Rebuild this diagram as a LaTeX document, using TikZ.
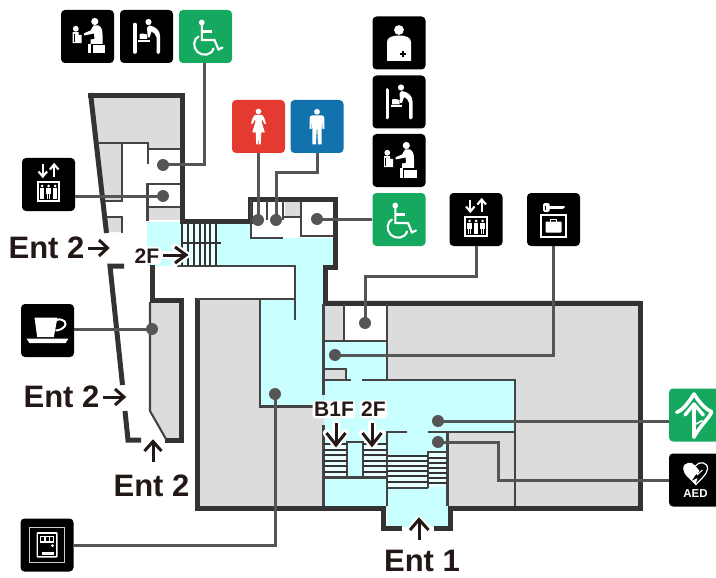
\documentclass[tikz,border=0pt]{standalone}
\usepackage{fontspec}
\setmainfont{Liberation Sans}
\definecolor{wallc}{HTML}{333333}
\definecolor{thinc}{HTML}{444444}
\definecolor{grayf}{HTML}{DCDCDC}
\definecolor{cyanf}{HTML}{C9FFFF}
\definecolor{connc}{HTML}{555555}
\definecolor{txtc}{HTML}{231815}
\definecolor{greenf}{HTML}{14A95F}
\definecolor{redf}{HTML}{E53A2F}
\definecolor{bluef}{HTML}{1172AE}
\tikzset{
  x=1pt,y=-1pt,
  wall/.style={draw=wallc,line width=5pt,line cap=butt,line join=miter},
  thin wall/.style={draw=thinc,line width=2.1pt,line join=miter},
  stairl/.style={draw=wallc,line width=2pt},
  conn/.style={draw=connc,line width=3pt,line join=miter},
  dotn/.style={circle,fill=connc,draw=none,inner sep=0pt,minimum size=12pt},
  iconbox/.style={rectangle,rounded corners=4pt,draw=none,inner sep=0pt,minimum size=53pt},
  ic/.style={fill=white,draw=none},
  il/.style={draw=white,line width=2.1pt,fill=none},
  big/.style={font=\fontsize{31}{32}\selectfont\bfseries,text=txtc,inner sep=0pt,anchor=base},
  small/.style={font=\fontsize{21}{22}\selectfont\bfseries,text=txtc,inner sep=1.6pt,fill=white,rounded corners=3pt,anchor=base},
  arrowl/.style={draw=txtc,line width=3pt,line join=miter},
  halo/.style={draw=white,line width=7.5pt,line join=round,line cap=round},
  pics/toiletchild/.style={code={
    \fill[ic] (7.3,-15) circle (3.6);
    \fill[ic] (6,-11) -- (11,-11) .. controls (14,-10) and (15,-6) .. (15,-2) -- (15,7.5) -- (3,7.5) -- (3,3) -- (7,2.5) -- (6.5,-3) -- (-3.5,-1) -- (-3.5,-3.2) -- (3,-6) -- cycle;
    \fill[ic] (5,9) -- (17.5,9) -- (17.5,17) -- (5,17) -- cycle;
    \fill[ic] (0.8,7.5) -- (3.5,7.5) -- (3.5,17) -- (0.8,17) -- cycle;
    \fill[ic] (-11.7,-7.7) circle (2.9);
    \fill[ic] (-15,-4.3) -- (-9,-4.3) -- (-9,-1.5) -- (-6,-1.5) -- (-6,6.7) -- (-15,6.7) -- cycle;
    \fill[black] (-13.6,-2) rectangle (-12.8,5.2);
  }},
  pics/babychange/.style={code={
    \draw[draw=white,line width=3.6pt,line cap=round] (-11.7,-12) -- (-11.7,15.5);
    \fill[ic] (2,-14.5) circle (3.1);
    \fill[ic] (3,-11) .. controls (9,-10) and (13.5,-6) .. (13.5,-1) -- (13.5,16) .. controls (13.5,18) and (10,18) .. (10,16) -- (10,1) .. controls (10,-2) and (7,-4) .. (5,-5) -- (3,1) -- (1,1) -- (1,-2) -- (0.5,-9) -- cycle;
    \fill[ic] (-8.3,3.4) rectangle (3,5.2);
    \fill[ic] (-7,-2.5) .. controls (-5,-4.5) and (-3,-2) .. (0.5,-2) -- (0.5,2.3) -- (-7,2.3) -- cycle;
  }},
  pics/wheel/.style={code={
    \fill[ic] (-3.7,-14) circle (2.9);
    \draw[il,line join=miter,line cap=round] (-3.7,-12) -- (-3.7,3.5) -- (9,3.5) -- (13,13) -- (17,11);
    \draw[il] (-3.7,-5) -- (6,-5);
    \draw[il,line cap=round] (-7,0) .. controls (-12,2) and (-13,11) .. (-8,15.5) .. controls (-3,20) and (6,19) .. (8,12);
  }},
  pics/lift/.style={code={
    \draw[il,line cap=butt] (-5.7,-20) -- (-5.7,-8);
    \draw[il,line join=miter] (-10,-13) -- (-5.7,-8) -- (-1.4,-13);
    \draw[il,line cap=butt] (5.7,-8) -- (5.7,-20);
    \draw[il,line join=miter] (1.4,-15) -- (5.7,-20) -- (10,-15);
    \draw[draw=white,line width=2pt] (-10.7,-2.7) rectangle (10.7,16.5);
    \foreach \px in {-6.5,0,6.5}{
      \fill[ic] (\px,1.5) circle (1.5);
      \fill[ic] (\px-2.3,3.5) rectangle (\px+2.3,9);
      \fill[ic] (\px-1.8,9) rectangle (\px-0.3,14);
      \fill[ic] (\px+0.3,9) rectangle (\px+1.8,14);
    }
  }},
  pics/coffee/.style={code={
    \fill[ic] (-13,-13) -- (10,-13) -- (6.3,6.7) -- (-10.3,6.7) -- cycle;
    \draw[draw=white,line width=2pt] (9,-10.5) .. controls (16,-13) and (21,-7) .. (16,-3) .. controls (14,-1) and (10,0) .. (8,0);
    \fill[ic] (-21,8) -- (21,8) -- (18,12.7) -- (-18,12.7) -- cycle;
  }},
  pics/vend/.style={code={
    \draw[draw=white!80!black,line width=.9pt] (-17.3,-17.3) rectangle (17.3,17.3);
    \fill[ic,rounded corners=1pt] (-10.5,-13) rectangle (10.5,12.5);
    \fill[black] (-9,-11.5) rectangle (9,11);
    \fill[ic] (-7,-9) rectangle (7,-2.5);
    \foreach \wx in {-5.6,-1.2,3.2}{\fill[black] (\wx,-7.6) rectangle (\wx+3,-4);}
    \fill[ic] (5.5,0.5) circle (1.5);
    \fill[ic] (-5,6.5) rectangle (6.5,9.5);
  }},
  pics/woman/.style={code={
    \fill[ic] (0,-15) circle (2.8);
    \fill[ic] (-3.5,-11.5) -- (3.5,-11.5) .. controls (5,-11) and (6,-8) .. (7.5,-3) -- (6,-2.5) -- (3.5,-7) -- (3,-5) -- (6.3,6) -- (2.8,6) -- (2.2,18) -- (0.4,18) -- (0,7) -- (-0.4,18) -- (-2.2,18) -- (-2.8,6) -- (-6.3,6) -- (-3,-5) -- (-3.5,-7) -- (-6,-2.5) -- (-7.5,-3) .. controls (-6,-8) and (-5,-11) .. (-3.5,-11.5) -- cycle;
  }},
  pics/man/.style={code={
    \fill[ic] (0,-14.7) circle (2.9);
    \fill[ic] (-5,-11) -- (5,-11) .. controls (6.5,-11) and (7.3,-10) .. (7.3,-8) -- (7.3,2.5) -- (5.5,2.5) -- (5.2,-6) -- (4.7,2) -- (4.5,18) -- (1,18) -- (0.3,3) -- (-0.3,3) -- (-1,18) -- (-4.5,18) -- (-4.7,2) -- (-5.2,-6) -- (-5.5,2.5) -- (-7.3,2.5) -- (-7.3,-8) .. controls (-7.3,-10) and (-6.5,-11) .. (-5,-11) -- cycle;
  }},
  pics/nursing/.style={code={
    \fill[ic] (0,-13) circle (4.9);
    \fill[ic] (-12,18) -- (-12,-1) .. controls (-12,-6) and (-6,-7.5) .. (0,-7.5) .. controls (6,-7.5) and (12,-6) .. (12,-1) -- (12,18) -- cycle;
    \fill[black] (3,8) rectangle (5,14);
    \fill[black] (1,10) rectangle (7,12);
  }},
  pics/keycase/.style={code={
    \fill[ic,rounded corners=1.5pt] (-10.3,-16.5) rectangle (-4,-7.5);
    \fill[black] (-8.8,-14) rectangle (-7.6,-10);
    \fill[ic] (-4.5,-13.5) -- (11,-13.5) -- (11,-11.5) -- (9,-10.7) -- (-4.5,-10.7) -- cycle;
    \draw[draw=white,line width=2pt] (-12.5,-4.5) rectangle (12.5,17.5);
    \fill[ic,rounded corners=.8pt] (-8,2) rectangle (8,13);
    \draw[draw=white,line width=1.1pt] (-2.7,2) -- (-2.7,-.2) -- (2.7,-.2) -- (2.7,2);
  }},
  pics/exit/.style={code={
    \draw[draw=white,line width=3.6pt,line join=round,line cap=round] (-18.8,-2.7) .. controls (-12,-5) and (-6,-14) .. (-1.5,-21) .. controls (3,-14) and (9,-6) .. (16.2,-3.3) .. controls (14,3) and (5,10) .. (-1.5,22);
    \draw[draw=white,line width=3.4pt,line cap=round] (-1.5,22) -- (-1.5,-10);
    \draw[draw=white,line width=3.4pt,line join=round,line cap=round] (-10.5,0) -- (-1.5,-11) -- (7.8,0);
    \draw[draw=white,line width=1.6pt] (-1.5,10) -- (7,5.5);
  }},
  pics/aedheart/.style={code={
    \fill[ic] (0,-14) .. controls (-3,-19) and (-12.5,-18.5) .. (-12.3,-11) .. controls (-12,-5) and (-4,0) .. (0,5) -- (2,-2) -- (-4,1) -- (0,-5) -- (4,-9) -- cycle;
    \draw[draw=white,line width=1.2pt] (0,-14) .. controls (3,-19) and (12.5,-18.5) .. (12,-11) .. controls (11.5,-5) and (4,0) .. (0,5);
    \draw[draw=white,line width=1pt] (-3,-4) -- (2,-8) -- (2,-5.5) -- (7,-10);
  }},
}
\begin{document}
\begin{tikzpicture}
\useasboundingbox (0,0) rectangle (716,578);
\clip (0,0) rectangle (716,578);
% --- fills
\fill[white] (0,0) rectangle (716,578);
\fill[grayf] (197,300) rectangle (640,508);
\fill[white] (345,304) rectangle (387,340);
\fill[grayf] (91,95) -- (181,95) -- (181,149) -- (148,149) -- (148,143) -- (97,143) -- cycle;
\fill[grayf] (98,143) -- (122,143) -- (122,201) -- (104,201) -- cycle;
\fill[grayf] (106,217) -- (122,217) -- (122,232) -- (108,232) -- cycle;
\fill[grayf] (148,207) rectangle (181,220);
\fill[grayf] (285,201) rectangle (300,217);
\fill[grayf] (151,301) -- (181,301) -- (181,439) -- (166,439) -- (150,411) -- cycle;
\fill[cyanf] (147,222) -- (250,222) -- (250,238) -- (333,238) -- (333,266) -- (323,266) -- (323,406) -- (260,406) -- (260,300) -- (295,300) -- (295,266) -- (147,266) -- cycle;
\fill[cyanf] (324,342) -- (387,342) -- (387,380) -- (515,380) -- (515,432) -- (448,432) -- (448,527) -- (387,527) -- (387,506) -- (324,506) -- cycle;
\fill[grayf] (325,370) rectangle (345,380);
% stair backgrounds
\fill[white!60!cyanf] (182,222) rectangle (216,266);
\fill[white!60!cyanf] (324,443) rectangle (347,477);
\fill[white!60!cyanf] (363,443) rectangle (387,477);
\fill[white!60!cyanf] (388,456) rectangle (428,487);
\fill[white!60!cyanf] (429,453) rectangle (447,487);
% --- thick walls
\draw[wall] (88,95.3) -- (182,95.3) -- (182,222);
\draw[wall] (90.5,93) -- (106.5,233);
\draw[wall] (180,221) -- (250,221) -- (250,199) -- (335,199) -- (335,267) -- (325,267) -- (325,304);
\draw[wall] (325,303) -- (640,303) -- (640,508) -- (449,508);
\draw[wall] (385,508) -- (197.5,508) -- (197.5,298);
\draw[wall] (383.5,506) -- (383.5,528) -- (402,528);
\draw[wall] (434,528) -- (450,528) -- (450,506);
\draw[wall] (124,266) -- (110,266) -- (122.5,385);
\draw[wall] (125,411) -- (128,440) -- (141,440);
\draw[wall] (152,265) -- (152,300) -- (181,300) -- (181,440) -- (165,440);
% --- thin walls
\draw[thin wall] (98,143) -- (148,143) -- (148,164);
\draw[thin wall] (148,149) -- (181,149);
\draw[thin wall] (122,143) -- (122,201) -- (105,201);
\draw[thin wall] (147.5,221) -- (147.5,184) -- (181,184);
\draw[thin wall] (148,207) -- (181,207);
\draw[thin wall] (107,217) -- (122,217) -- (122,233);
\draw[thin wall] (150,302) -- (150,411) -- (166,439);
\draw[thin wall] (251,200) -- (251,238) -- (283,238);
\draw[thin wall] (267,201) -- (267,220);
\draw[thin wall] (283,201) -- (283,220);
\draw[thin wall] (283,217) -- (301,217);
\draw[thin wall] (301,201) -- (301,236) -- (334,236);
\draw[thin wall] (177,266) -- (295,266) -- (295,320);
\draw[thin wall] (197,299) -- (295,299);
\draw[thin wall] (260,299) -- (260,406.5) -- (323,406.5);
\draw[thin wall] (323.5,304) -- (323.5,395);
\draw[thin wall] (323.5,425) -- (323.5,506);
\draw[thin wall] (344,304) -- (344,341);
\draw[thin wall] (323,341) -- (387,341);
\draw[thin wall] (387,304) -- (387,380);
\draw[thin wall] (324,369) -- (346,369) -- (346,380);
\draw[thin wall] (323,380) -- (351,380);
\draw[thin wall] (362,380) -- (515,380) -- (515,506);
\draw[thin wall] (387,506) -- (387,432) -- (407,432);
\draw[thin wall] (428,432) -- (515,432);
\draw[thin wall] (447.5,432) -- (447.5,506);
\draw[thin wall] (347,477) -- (347,442) -- (363,442) -- (363,477);
\draw[thin wall] (323,477.5) -- (387,477.5);
\draw[thin wall] (428,488) -- (428,452) -- (447,452);
\draw[thin wall] (387,488) -- (428,488);
% --- stairs
\foreach \sx in {182,188,194,200,205,210,216}{\draw[stairl] (\sx,222) -- (\sx,266);}
\draw[stairl] (182,243) -- (221,243);
\foreach \sy in {444,449.5,455,460.5,466,471.5}{
  \draw[stairl] (324,\sy) -- (347,\sy);
  \draw[stairl] (363,\sy) -- (387,\sy);
}
\foreach \sy in {456,461,466,471,476,481.5}{\draw[stairl] (388,\sy) -- (428,\sy);}
\foreach \sy in {458,463,468,473,478,483}{\draw[stairl] (429,\sy) -- (447,\sy);}
% --- icons
\node[iconbox,fill=black] (ichild1) at (87.5,36.5) {};
\pic at (87.5,36.5) {toiletchild};
\node[iconbox,fill=black] (ibaby1) at (146.5,36.5) {};
\pic at (146.5,36.5) {babychange};
\node[iconbox,fill=greenf] (iwheel1) at (205.5,36.5) {};
\pic at (205.5,36.5) {wheel};
\node[iconbox,fill=black] (ilift1) at (48.5,184.5) {};
\pic at (48.5,184.5) {lift};
\node[iconbox,fill=black] (icoffee) at (47.5,330.5) {};
\pic at (47.5,330.5) {coffee};
\node[iconbox,fill=black] (ivend) at (47,545) {};
\pic at (47,545) {vend};
\node[iconbox,fill=redf] (iwoman) at (258.5,126.5) {};
\pic at (258.5,126.5) {woman};
\node[iconbox,fill=bluef] (iman) at (317,126.5) {};
\pic at (317,126.5) {man};
\node[iconbox,fill=black] (inurse) at (399,43) {};
\pic at (399,43) {nursing};
\node[iconbox,fill=black] (ibaby2) at (399,102) {};
\pic at (399,102) {babychange};
\node[iconbox,fill=black] (ichild2) at (399,160.5) {};
\pic at (399,160.5) {toiletchild};
\node[iconbox,fill=greenf] (iwheel2) at (399,219.5) {};
\pic at (399,219.5) {wheel};
\node[iconbox,fill=black] (ilift2) at (476,219.5) {};
\pic at (476,219.5) {lift};
\node[iconbox,fill=black] (ikey) at (553.5,219.5) {};
\pic at (553.5,219.5) {keycase};
\node[iconbox,fill=greenf] (iexit) at (695.5,415) {};
\pic at (695.5,415) {exit};
\node[iconbox,fill=black] (iaed) at (695.5,480) {};
\pic at (695.5,480) {aedheart};
\node[font=\fontsize{11.5}{12}\selectfont\bfseries,text=white,inner sep=0pt] (taed) at (695.5,493.5) {AED};
% --- dots
\node[dotn] (d1) at (163,165) {};
\node[dotn] (d2) at (163,196) {};
\node[dotn] (d3) at (258,220) {};
\node[dotn] (d4) at (276,220) {};
\node[dotn] (d5) at (317,219) {};
\node[dotn] (d6) at (365,323) {};
\node[dotn] (d7) at (335,355) {};
\node[dotn] (d8) at (438,421) {};
\node[dotn] (d9) at (438,442) {};
\node[dotn] (d10) at (152,329) {};
\node[dotn] (d11) at (275,394) {};
% --- connectors
\draw[conn] (iwheel1.south -| 204,0) -- (204,165) -- (d1.center);
\draw[conn] (ilift1.east |- d2) -- (d2.center);
\draw[conn] (iwoman.south -| d3) -- (d3.center);
\draw[conn] (iman.south) -- (317,172) -- (276,172) -- (d4.center);
\draw[conn] (iwheel2.west |- d5) -- (d5.center);
\draw[conn] (ilift2.south) -- (476,276) -- (365,276) -- (d6.center);
\draw[conn] (553,246) -- (553,355) -- (d7.center);
\draw[conn] (iexit.west |- d8) -- (d8.center);
\draw[conn] (iaed.west) -- (498,480) -- (498,442) -- (d9.center);
\draw[conn] (icoffee.east |- d10) -- (d10.center);
\draw[conn] (ivend.east) -- (275,545) -- (d11.center);
% --- labels
\node[big] (t1) at (46.5,258.5) {Ent 2};
\node[big] (t2) at (61.5,407) {Ent 2};
\node[big] (t3) at (151.5,496.5) {Ent 2};
\node[big] (t4) at (422,571.5) {Ent 1};
\draw[arrowl] (88,248) -- (107,248);
\draw[arrowl] (99,240) -- (107.5,248) -- (99,256);
\draw[arrowl] (103,397) -- (123,397);
\draw[arrowl] (115,389) -- (124,397) -- (115,405);
\draw[arrowl] (153,462) -- (153,442);
\draw[arrowl] (144.5,451) -- (153,441.5) -- (161.5,451);
% halo arrows
\draw[halo] (163,255) -- (186,255);
\draw[halo] (175,247) -- (186,255) -- (175,263);
\draw[arrowl] (163,255) -- (185,255);
\draw[arrowl] (175,247) -- (186,255) -- (175,263);
\draw[halo] (336,423) -- (336,445);
\draw[halo] (326.5,433) -- (336,445) -- (345.5,433);
\draw[arrowl] (336,423) -- (336,444);
\draw[arrowl] (326.5,433) -- (336,445) -- (345.5,433);
\draw[halo] (372,423) -- (372,445);
\draw[halo] (362.5,433) -- (372,445) -- (381.5,433);
\draw[arrowl] (372,423) -- (372,444);
\draw[arrowl] (362.5,433) -- (372,445) -- (381.5,433);
\draw[halo] (419,540) -- (419,520);
\draw[halo] (410,530) -- (419,520) -- (428.5,530);
\draw[arrowl] (419,540) -- (419,520);
\draw[arrowl] (410,530) -- (419,519.5) -- (428.5,530);
\node[small] (t5) at (147,263) {2F};
\node[small] (t6) at (334,416.7) {B1F};
\node[small] (t7) at (373.5,416.7) {2F};
\end{tikzpicture}
\end{document}
